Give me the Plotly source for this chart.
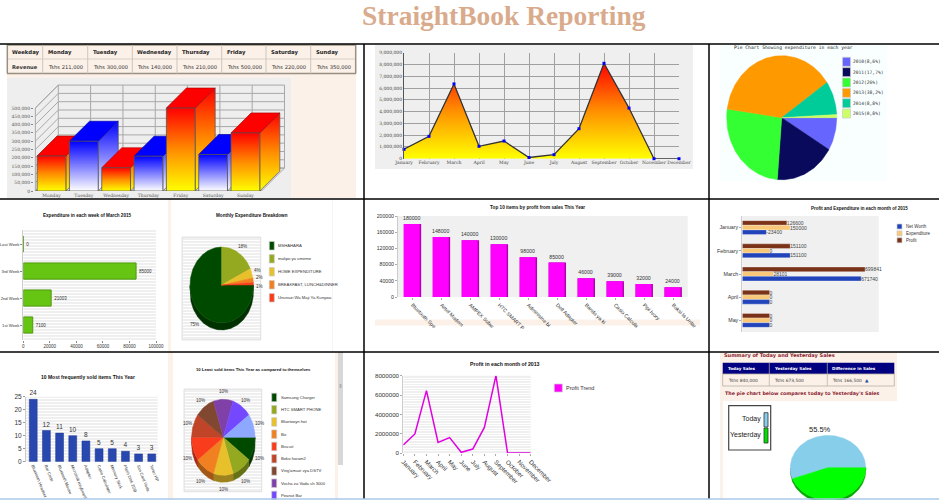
import math
import plotly.graph_objects as go

W, H = 939, 500
SERIF = "DejaVu Serif"
SANS = "Liberation Sans"
DV = "DejaVu Sans"
NARROW = "Liberation Sans"
MONO = "DejaVu Sans Mono"

# ---------- data ----------
weekdays = ["Monday", "Tuesday", "Wednesday", "Thursday", "Friday", "Saturday", "Sunday"]
week_revenue = [211000, 300000, 140000, 210000, 500000, 220000, 350000]

months = ["January", "February", "March", "April", "May", "June", "July", "August",
          "September", "October", "November", "December"]
month_revenue = [800000, 1900000, 6350000, 1050000, 1500000, 100000, 340000, 2550000,
                 8100000, 4300000, 0, 0]

year_labels = ["2010(8,6%)", "2011(17,7%)", "2012(26%)", "2013(38,2%)", "2014(8,8%)", "2015(0,8%)"]
year_shares = [8.6, 17.7, 26, 38.2, 8.8, 0.8]
year_colors = ["#6666ff", "#0a0a5c", "#33ff33", "#ff9900", "#00cc99", "#ccff66"]

week_names = ["1st Week", "2nd Week", "3rd Week", "Last Week"]
week_expenditure = [7100, 21003, 85000, 0]

expense_names = ["MSHAHARA", "malipo ya umeme", "HOME EXPENDITURE", "BREAKFAST, LUNCH&DINNER",
                 "Ununuzi Wa Maji Ya Kunywa"]
expense_shares = [75, 18, 4, 2, 1]
palette = ["#004a00", "#94a820", "#e8c02c", "#f08020", "#f83c1c", "#c04428", "#804830",
           "#7f40a8", "#7448ff", "#8ea8ff"]

top_items = ["Bluetooth Spe", "Airtel Modem", "AMPEX Subw", "HTC SMART P", "Adminisine bi",
             "Dell Adapter", "Bando ya ki", "Casio Calcula", "Pipi Ivory", "Boksi la Unlar"]
top_profit = [180000, 148000, 140000, 130000, 98000, 85000, 46000, 39000, 32000, 24000]

pe_months = ["January", "February", "March", "April", "May"]
pe_profit = [126600, 151100, 699841, 0, 0]
pe_expenditure = [150000, 0, 28101, 0, 0]
pe_net = [-23400, 151100, 671740, 0, 0]

freq_items = ["Bluetooth Headset", "Bar Code", "Bluetooth Mouse", "Microsoft Keyboard", "Adapter",
              "Casio Calculator", "Memory Stick", "Flash Disk 2GB", "Sim Card Voda", "Toner HP"]
freq_counts = [24, 12, 11, 10, 8, 5, 5, 4, 3, 3]

least_items = ["Samsung Charger", "HTC SMART PHONE", "Bluetooyn hot", "Bic", "Biscuit", "Boko haram2",
               "Ving'amuzi vya DSTV", "Vocha za Voda sh 3000", "Peanut Bar", "Pipi Ivory"]
least_shares = [10] * 10

profit_2013 = [830000, 1970000, 6450000, 1100000, 1590000, 70000, 410000, 2650000,
               8000000, 0, 0, 0]

today_sales = 840000
yesterday_sales = 673500
difference_sales = 166500

# ---------- helpers ----------
fig = go.Figure()
LAYOUT = {}
shapes, notes = [], []
count = [0]


def axes(l, t, r, b, xr, yr, x=None, y=None):
    count[0] += 1
    s = "" if count[0] == 1 else str(count[0])
    xa = dict(domain=[l / W, r / W], range=xr, anchor="y" + s, visible=False,
              showgrid=False, zeroline=False, fixedrange=True, automargin=False)
    ya = dict(domain=[1 - b / H, 1 - t / H], range=yr, anchor="x" + s, visible=False,
              showgrid=False, zeroline=False, fixedrange=True, automargin=False)
    if x:
        xa.update(visible=True)
        xa.update(x)
    if y:
        ya.update(visible=True)
        ya.update(y)
    LAYOUT["xaxis" + s] = xa
    LAYOUT["yaxis" + s] = ya
    return "x" + s, "y" + s


def rect(x0, y0, x1, y1, fill, line=None, lw=1, layer="below"):
    shapes.append(dict(type="rect", xref="paper", yref="paper", x0=x0 / W, x1=x1 / W,
                       y0=1 - y0 / H, y1=1 - y1 / H, fillcolor=fill, layer=layer,
                       line=dict(color=line or fill, width=lw if line else 0)))


def hline(x0, x1, y, color, lw=1, layer="below"):
    shapes.append(dict(type="line", xref="paper", yref="paper", x0=x0 / W, x1=x1 / W,
                       y0=1 - y / H, y1=1 - y / H, layer=layer, line=dict(color=color, width=lw)))


def vline(x, y0, y1, color, lw=1, layer="below"):
    shapes.append(dict(type="line", xref="paper", yref="paper", x0=x / W, x1=x / W,
                       y0=1 - y0 / H, y1=1 - y1 / H, layer=layer, line=dict(color=color, width=lw)))


def text(x, y, s, size, color="#222", family=SANS, anchor="left", bold=False):
    notes.append(dict(xref="paper", yref="paper", x=x / W, y=1 - y / H, text=f"<b>{s}</b>" if bold else s,
                      showarrow=False, xanchor=anchor, yanchor="middle", borderpad=0,
                      font=dict(size=size, color=color, family=family)))


def poly(xs, ys, ax, fill, line=None, lw=0, grad=None):
    kw = dict(fillgradient=grad) if grad else dict(fillcolor=fill)
    fig.add_trace(go.Scatter(x=list(xs) + [xs[0]], y=list(ys) + [ys[0]], xaxis=ax[0], yaxis=ax[1],
                             mode="lines", fill="toself", hoverinfo="skip", showlegend=False,
                             line=dict(color=line or fill or "rgba(0,0,0,0)", width=lw), **kw))


def stripes(l, t, r, b, step=3, color="#ffffff"):
    h = b - t
    ax = axes(l, t, r, b, [0, 1], [0, h],
              y=dict(showticklabels=False, ticks="", showgrid=True, gridcolor=color, gridwidth=1,
                     tick0=0, dtick=step, showline=False))
    LAYOUT["xaxis" + ax[0][1:]].update(visible=False)
    fig.add_trace(go.Scatter(x=[0], y=[0], xaxis=ax[0], yaxis=ax[1], mode="none", hoverinfo="skip",
                             showlegend=False))


def darker(c, f=0.68):
    r, g, b = int(c[1:3], 16), int(c[3:5], 16), int(c[5:7], 16)
    return f"#{int(r*f):02x}{int(g*f):02x}{int(b*f):02x}"


def pie(vals, colors, cx, cy, rx, ry, clockwise=True, depth=0, labels=None, lab_size=5, nudge=None):
    m = 1.3
    l, r, t = cx - m * rx, cx + m * rx, cy - m * ry
    b = min(cy + m * ry + depth, H)
    ax = axes(l, t, r, b, [-m, m], [-(b - cy) / ry, (cy - t) / ry])
    sign = -1 if clockwise else 1
    total = sum(vals)
    d = depth / ry
    arcs, a = [], 0.0
    for v in vals:
        a1 = a + 2 * math.pi * v / total
        n = max(2, int((a1 - a) * 40))
        arcs.append([a + (a1 - a) * k / n for k in range(n + 1)])
        a = a1
    if depth:
        for th, c in zip(arcs, colors):
            pts = [(math.cos(q), sign * math.sin(q)) for q in th if sign * math.sin(q) <= 0.001]
            if len(pts) > 1:
                xs = [p[0] for p in pts] + [p[0] for p in reversed(pts)]
                ys = [p[1] for p in pts] + [p[1] - d for p in reversed(pts)]
                poly(xs, ys, ax, darker(c), darker(c), 0.5)
    for th, c in zip(arcs, colors):
        xs = [0] + [math.cos(q) for q in th]
        ys = [0] + [sign * math.sin(q) for q in th]
        poly(xs, ys, ax, c, c, 0.5)
    if labels:
        for i, (th, s) in enumerate(zip(arcs, labels)):
            q = (th[0] + th[-1]) / 2
            lx, ly = 1.2 * math.cos(q), sign * 1.2 * math.sin(q)
            if ly < 0:
                ly -= d
            if nudge:
                ly += nudge[i]
            notes.append(dict(xref=ax[0], yref=ax[1], x=lx, y=ly, text=s, showarrow=False,
                              font=dict(size=lab_size, family=NARROW, color="#333")))
    return ax


def swatches(x, y, step, colors, w, h, names, size, family, gap=3, color="#333"):
    for i, c in enumerate(colors):
        rect(x, y + i * step, x + w, min(y + i * step + h, H), c, "#cccccc", 0.7)
        if names[i]:
            text(x + w + gap, y + i * step + h / 2, names[i], size, color, family)


CREAM = "#fbf1e8"
PLOTGREY = "#f0f0f0"

# ---------- page ----------
text(504, 15, "StraightBook Reporting", 27.5, "#d9ab8c", "Liberation Serif", "center", True)

# ---------- panel 1: weekly table + 3D bars ----------
rect(7, 45, 356, 198, CREAM)
rect(7, 78, 291, 198, "#eeeeee")
cols = [7.3, 42.7, 87.7, 132.3, 177, 221.7, 266, 310.7, 355.7]
for i, name in enumerate(["Weekday"] + weekdays):
    text(cols[i] + 4, 52.3, name, 5.3, "#222", DV, bold=True)
for i, s in enumerate(["Revenue"] + [f"Tshs {v:,}" for v in week_revenue]):
    text(cols[i] + 4, 66.5, s, 5.2, "#333", DV, bold=(i == 0))
for y in (45, 73.5):
    hline(7, 356, y, "#9a9080", 1.5)
hline(7, 356, 59, "#d8cfc4", 1)
for i, c in enumerate(cols):
    vline(c, 45, 73.5, "#9a9080" if i in (0, 8) else "#cfc6ba", 1.5 if i in (0, 8) else 1)

ax1 = axes(34, 80, 290, 191, [-0.542, 7.38], [0, 668675],
           x=dict(tickmode="array", tickvals=list(range(7)), ticktext=weekdays, ticks="",
                  tickfont=dict(size=4.5, family=SERIF, color="#555"), showline=False, ticklen=0),
           y=dict(tickmode="array", tickvals=list(range(0, 500001, 50000)),
                  ticktext=[f"{v:,}" for v in range(0, 500001, 50000)], ticks="outside", ticklen=2,
                  tickcolor="#888", tickfont=dict(size=4.5, family=SERIF, color="#555"), showline=False))
wall_dx, wall_dy = 0.71, 138000
bar_dx, bar_dy = 0.62, 120000
half = 0.445
GRID = "#a8a8a8"
for v in range(0, 500001, 50000):
    fig.add_trace(go.Scatter(x=[-0.5, -0.5 + wall_dx, 6.5 + wall_dx], y=[v, v + wall_dy, v + wall_dy],
                             xaxis=ax1[0], yaxis=ax1[1], mode="lines", hoverinfo="skip", showlegend=False,
                             line=dict(color=GRID, width=1)))
for i in range(8):
    fig.add_trace(go.Scatter(x=[i - 0.5 + wall_dx] * 2, y=[wall_dy, 500000 + wall_dy], xaxis=ax1[0], yaxis=ax1[1],
                             mode="lines", hoverinfo="skip", showlegend=False, line=dict(color=GRID, width=1)))
fig.add_trace(go.Scatter(x=[-0.5 + wall_dx, -0.5, -0.5], y=[500000 + wall_dy, 500000, 0], xaxis=ax1[0], yaxis=ax1[1],
                         mode="lines", hoverinfo="skip", showlegend=False, line=dict(color=GRID, width=1)))
fig.add_trace(go.Scatter(x=[6.5 + wall_dx, 6.5 + wall_dx, 6.5, -0.5, -0.5 + wall_dx, 6.5 + wall_dx],
                         y=[500000 + wall_dy, wall_dy, 0, 0, wall_dy, wall_dy], xaxis=ax1[0], yaxis=ax1[1],
                         mode="lines", hoverinfo="skip", showlegend=False, line=dict(color=GRID, width=1)))
fig.add_trace(go.Scatter(x=[-0.5, 6.5], y=[0, 0], xaxis=ax1[0], yaxis=ax1[1], mode="lines", hoverinfo="skip",
                         showlegend=False, line=dict(color="#888", width=1.5)))
RED = dict(type="vertical", colorscale=[[0, "#ffff00"], [0.5, "#ff8c00"], [1, "#ff0000"]])
BLUE = dict(type="vertical", colorscale=[[0, "#ffffff"], [1, "#0000ff"]])
for i, v in enumerate(week_revenue):
    grad, topc = (RED, "#ff0000") if i % 2 == 0 else (BLUE, "#0000ff")
    x0, x1 = i - half, i + half
    poly([x1, x1 + bar_dx, x1 + bar_dx, x1], [0, bar_dy, v + bar_dy, v], ax1, None, "#555555", 0.7, grad)
    poly([x0, x1, x1 + bar_dx, x0 + bar_dx], [v, v, v + bar_dy, v + bar_dy], ax1, topc, darker(topc), 0.7)
    poly([x0, x1, x1, x0], [0, 0, v, v], ax1, None, "#555555", 0.8, grad)

# ---------- panel 2: monthly area ----------
rect(375, 45, 693, 169, "#efefef")
idx = list(range(12))
ax2 = axes(404, 52.7, 679, 158.7, [0, 11], [0, 9000000],
           x=dict(tickmode="array", tickvals=idx, ticktext=months, tickangle=0, showgrid=True, gridcolor="#a0a0a0",
                  gridwidth=1, ticks="", tickfont=dict(size=4.5, family=SERIF, color="#444")),
           y=dict(tickmode="array", tickvals=list(range(0, 9000001, 1000000)),
                  ticktext=[f"{v:,}" for v in range(0, 9000001, 1000000)], showgrid=True, gridcolor="#a0a0a0",
                  gridwidth=1, ticks="", showline=True, linecolor="#555", linewidth=1,
                  tickfont=dict(size=4.5, family=SERIF, color="#444")))
fig.add_trace(go.Scatter(x=idx, y=month_revenue, xaxis=ax2[0], yaxis=ax2[1], mode="lines+markers", fill="tozeroy",
                         fillgradient=dict(type="vertical", colorscale=[[0, "#ffff00"], [0.5, "#ff9000"], [1, "#ff0000"]]),
                         line=dict(color="#333333", width=1.3), cliponaxis=False, showlegend=False, hoverinfo="skip",
                         marker=dict(color="#0000ff", size=3, symbol="square")))

# ---------- panel 3: yearly pie ----------
rect(720, 45, 887, 181, "#f9ffff")
pie(year_shares, year_colors, 781.7, 117.7, 55, 62)
text(733, 48, "Pie Chart Showing expenditure in each year", 4.7, "#222", MONO, bold=False)
swatches(842.5, 57.3, 10.35, year_colors, 8, 9, year_labels, 4.6, MONO, 1)

# ---------- panel 4: weekly expenditure ----------
text(87, 216, "Expenditure in each week of March 2015", 4.6, "#111", NARROW, "center", True)
rect(23.3, 230, 156, 340, "#efefef")
stripes(23.3, 230, 156, 340)
ax4 = axes(23.3, 230, 156, 340, [0, 100000], [-0.555, 3.52],
           x=dict(tickmode="array", tickvals=list(range(0, 100001, 20000)),
                  ticktext=[str(v) for v in range(0, 100001, 20000)], ticks="outside", ticklen=2,
                  tickcolor="#888", tickfont=dict(size=4.5, family=NARROW, color="#333"), showline=False),
           y=dict(tickmode="array", tickvals=[0, 1, 2, 3], ticktext=week_names, ticks="outside", ticklen=2,
                  tickcolor="#888", tickfont=dict(size=4.2, family=NARROW, color="#333"), showline=True,
                  linecolor="#cccccc", linewidth=1))
fig.add_trace(go.Bar(x=week_expenditure, y=[0, 1, 2, 3], orientation="h", xaxis=ax4[0], yaxis=ax4[1], width=0.6,
                     marker=dict(color="#66c413", line=dict(color="#4f9a10", width=1)),
                     text=[str(v) for v in week_expenditure], textposition="outside", cliponaxis=False,
                     constraintext="none", textfont=dict(size=4.5, family=NARROW, color="#333"),
                     showlegend=False, hoverinfo="skip"))

# ---------- panel 4b: monthly breakdown ----------
rect(168, 199, 171, 352, "#fbf1e8")
vline(332.5, 199, 352, "#f4f4f4", 1)
text(252, 216, "Monthly Expenditure Breakdown", 4.6, "#111", NARROW, "center", True)
rect(182, 237, 260.7, 340, "#efefef", "#d8d8d8", 0.7)
stripes(182.5, 237.5, 260.2, 339.5)
pie(expense_shares, palette[:5], 221.7, 285, 31.7, 38, depth=7,
    labels=[f"{v}%" for v in expense_shares], lab_size=4.6, nudge=[0, 0, 0, 0.05, -0.07])
swatches(269.3, 241.5, 13, palette[:5], 5, 8.5, expense_names, 4.2, NARROW, 3)

# ---------- panel 5: top items ----------
text(537.7, 208, "Top 10 items by profit from sales This Year", 4.7, "#111", SANS, "center", True)
rect(398, 216, 687.7, 297, PLOTGREY)
rect(375, 319.5, 700, 325.5, CREAM)
ti = list(range(10))
ax5 = axes(398, 216, 687.7, 297, [-0.5, 9.5], [0, 200000],
           x=dict(tickmode="array", tickvals=ti, ticktext=top_items, tickangle=45, ticks="outside", ticklen=2,
                  tickcolor="#aaa", tickfont=dict(size=5.2, family=SANS, color="#333")),
           y=dict(tickmode="array", tickvals=list(range(0, 200001, 40000)),
                  ticktext=[str(v) for v in range(0, 200001, 40000)], ticks="outside", ticklen=2,
                  tickcolor="#aaa", tickfont=dict(size=5.2, family=SANS, color="#333"),
                  showline=True, linecolor="#cccccc"))
fig.add_trace(go.Bar(x=ti, y=top_profit, xaxis=ax5[0], yaxis=ax5[1], width=0.6, offset=-0.3,
                     marker=dict(color="#b000b0", line=dict(width=0)), showlegend=False, hoverinfo="skip"))
fig.add_trace(go.Bar(x=ti, y=top_profit, xaxis=ax5[0], yaxis=ax5[1], width=0.55, offset=-0.3,
                     marker=dict(color="#ff00ff", line=dict(width=0)), showlegend=False, hoverinfo="skip",
                     text=[str(v) for v in top_profit], textposition="outside", cliponaxis=False, constraintext="none",
                     textfont=dict(size=5.2, family=SANS, color="#333")))

# ---------- panel 6: profit & expenditure ----------
text(859.5, 209, "Profit and Expenditure in each month of 2015", 4.5, "#111", SANS, "center", True)
rect(742.3, 216, 878.7, 332, PLOTGREY)
ax6 = axes(742.3, 216, 878.7, 332, [-200000, 800000], [4.5, -0.5],
           y=dict(tickmode="array", tickvals=list(range(5)), ticktext=pe_months, ticks="outside", ticklen=2,
                  tickcolor="#aaa", tickfont=dict(size=5.3, family=SANS, color="#333"),
                  showline=True, linecolor="#cccccc"))
BASE = -200000
for vals, col, off in ((pe_profit, "#7a3318", -0.3), (pe_expenditure, "#f8c878", -0.1), (pe_net, "#2244bb", 0.1)):
    fig.add_trace(go.Bar(y=list(range(5)), x=[v - BASE for v in vals], base=BASE, orientation="h",
                         xaxis=ax6[0], yaxis=ax6[1], width=0.2, offset=off,
                         marker=dict(color=col, line=dict(color="#ffffff", width=0.3)),
                         text=[str(v) for v in vals], textposition="outside", cliponaxis=False, constraintext="none",
                         textfont=dict(size=5, family=SANS, color="#444"), showlegend=False, hoverinfo="skip"))
swatches(897, 224, 6.9, ["#2244bb", "#f8c878", "#7a3318"], 5, 5, ["Net Worth", "Expenditure", "Profit"], 4.5, SANS, 3)

# ---------- panel 7: most frequently sold ----------
text(87.7, 376.7, "10 Most frequently sold items This Year", 5, "#111", NARROW, "center", True)
rect(26, 396.7, 157.7, 461.7, "#efefef")
stripes(26, 396.7, 157.7, 461.7)
fi = list(range(10))
ax7 = axes(26, 396.7, 157.7, 461.7, [-0.55, 9.45], [0, 25],
           x=dict(tickmode="array", tickvals=fi, ticktext=freq_items, tickangle=68, ticks="", ticklen=0,
                  tickfont=dict(size=4.2, family=NARROW, color="#333")),
           y=dict(tickmode="array", tickvals=list(range(0, 26, 5)), ticks="outside", ticklen=2, tickcolor="#999",
                  tickfont=dict(size=6.5, family=NARROW, color="#333"), showline=True, linecolor="#cccccc"))
fig.add_trace(go.Bar(x=fi, y=freq_counts, xaxis=ax7[0], yaxis=ax7[1], width=0.6,
                     marker=dict(color="#2848b0", line=dict(color="#1c3590", width=0.5)),
                     text=[str(v) for v in freq_counts], textposition="outside", cliponaxis=False, constraintext="none",
                     textfont=dict(size=6.5, family=NARROW, color="#333"), showlegend=False, hoverinfo="skip"))

# ---------- panel 7b: least sold ----------
rect(168, 352, 173, 499, CREAM)
rect(335, 352, 338, 499, CREAM)
rect(338, 352, 343, 465, "#d8d8d8")
rect(339.5, 384, 341.5, 388, "#b0b0b0")
text(254, 369, "10 Least sold items This Year as compared to themselves", 4.2, "#111", NARROW, "center", True)
rect(184, 389, 261.7, 491.7, "#efefef", "#d8d8d8", 0.7)
stripes(184.5, 389.5, 261.2, 491.2)
pie(least_shares, palette, 223.3, 437.3, 31.7, 38, depth=7, labels=[f"{v}%" for v in least_shares], lab_size=4.6)
swatches(271.7, 393.2, 12.25, palette[:9], 5, 8.5, least_items[:9], 4.2, NARROW, 3)

# ---------- panel 8: profit trend ----------
text(505.3, 363.5, "Profit in each month of 2013", 5.2, "#111", SANS, "center", True)
rect(403.3, 375.7, 530.7, 453, "#efefef")
stripes(403.3, 375.7, 530.7, 453, 2.5)
ax8 = axes(403.3, 375.7, 530.7, 453, [0, 11], [0, 8000000],
           x=dict(tickmode="array", tickvals=idx, ticktext=months, tickangle=45, ticks="outside", ticklen=2,
                  tickcolor="#aaa", tickfont=dict(size=6.2, family=SANS, color="#333")),
           y=dict(tickmode="array", tickvals=list(range(0, 8000001, 2000000)),
                  ticktext=[str(v) for v in range(0, 8000001, 2000000)], ticks="outside", ticklen=2,
                  tickcolor="#aaa", tickfont=dict(size=6.2, family=SANS, color="#333"),
                  showline=True, linecolor="#cccccc"))
fig.add_trace(go.Scatter(x=idx, y=profit_2013, xaxis=ax8[0], yaxis=ax8[1], mode="lines", cliponaxis=False,
                         line=dict(color="#e000e0", width=1.5), showlegend=False, hoverinfo="skip"))
swatches(554.3, 384, 10, ["#ff00ff"], 8, 8, ["Profit Trend"], 5.5, SANS, 2.5)

# ---------- panel 9: today vs yesterday ----------
rect(720, 352, 897, 401, CREAM)
rect(720, 401, 723, 499, CREAM)
text(723, 355, "Summary of Today and Yesterday Sales", 5, "#8a1c30", DV, bold=True)
rect(722.7, 362.7, 894.3, 374, "#000080")
rect(722.7, 374, 894.3, 386, CREAM, "#b8b0a4", 0.8)
c9 = [722.7, 769.3, 827.3]
for x, s in zip(c9, ["Today Sales", "Yesterday Sales", "Difference in Sales"]):
    text(x + 4, 368.3, s, 4.1, "#ffffff", DV, bold=True)
for x, s in zip(c9, [f"Tshs {today_sales:,}", f"Tshs {yesterday_sales:,}", f"Tshs {difference_sales:,}"]):
    text(x + 4, 380, s, 4.4, "#444444", DV)
for x in c9[1:]:
    vline(x, 362.7, 386, "#b8b0a4", 0.7)
text(864, 380, "▲", 4.5, "#1f4fa0", DV)
text(723.6, 393.7, "The pie chart below compares today to Yesterday's Sales", 4.8, "#8a1c30", DV, bold=True)
rect(728.7, 405.7, 770.7, 450, "#ffffff", "#444444", 1.2)
text(761.5, 418.5, "Today", 7, "#222", NARROW, "right")
text(761.5, 434.5, "Yesterday", 7, "#222", NARROW, "right")
rect(764, 412.7, 768, 427, "#87ceeb", "#333333", 0.8)
rect(764, 428, 768, 443, "#00e000", "#333333", 0.8)
pie([today_sales, yesterday_sales], ["#87ceeb", "#00ff00"], 828, 467.7, 37.7, 32.3, clockwise=False, depth=3)
text(820, 429, f"{today_sales / (today_sales + yesterday_sales) * 100:.1f}%", 7.5, "#222", NARROW, "center")

# ---------- panel frames ----------
for y in (44, 199, 352):
    hline(0, 939, y, "#000000", 1.5, "above")
vline(364, 44, 499, "#000000", 1.5, "above")
vline(709, 44, 499, "#000000", 1.5, "above")
hline(0, 939, 499, "#a8c8e8", 1.5, "above")

fig.update_layout(width=W, height=H, margin=dict(l=0, r=0, t=0, b=0, autoexpand=False), autosize=False,
                  paper_bgcolor="#ffffff", plot_bgcolor="rgba(0,0,0,0)", barmode="overlay",
                  showlegend=False, shapes=shapes, annotations=notes, hovermode=False, **LAYOUT)
fig.write_html("out.html", config={"displayModeBar": False, "responsive": False},
               default_width="939px", default_height="500px",
               post_script="document.body.style.margin='0';document.body.style.overflow='hidden';"
                           "document.documentElement.style.overflow='hidden';"
                           "document.getElementById('{plot_id}').style.overflow='hidden';")
